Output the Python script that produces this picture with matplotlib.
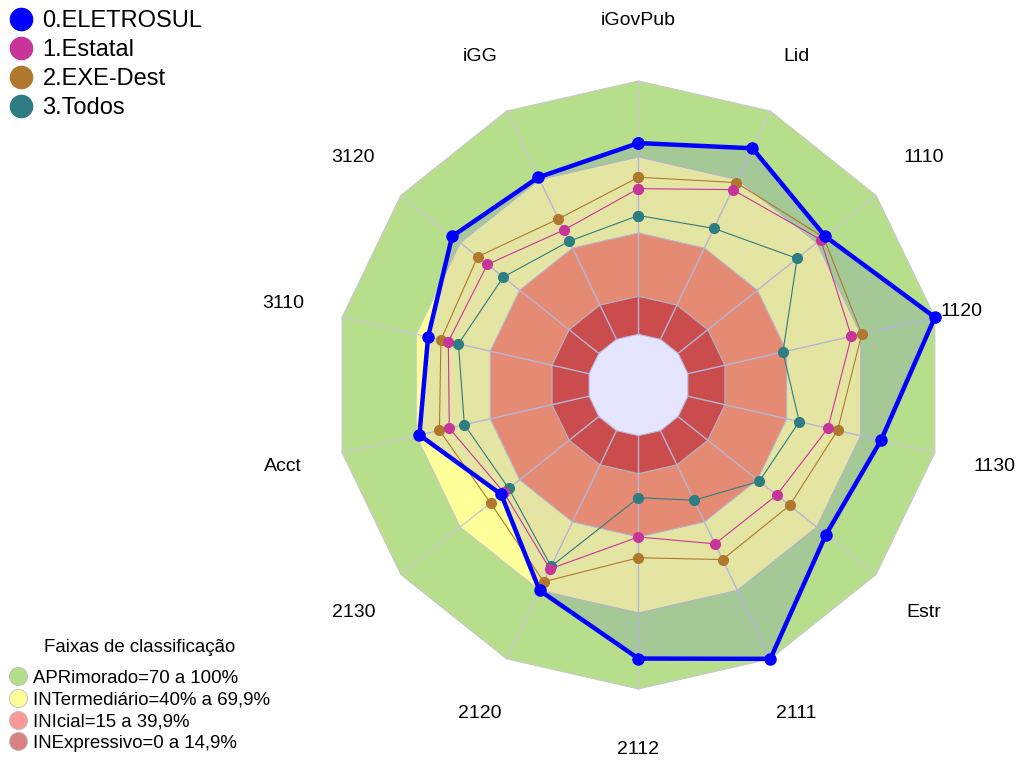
import numpy as np
import matplotlib
matplotlib.use("Agg")
import matplotlib.pyplot as plt
from matplotlib.lines import Line2D

plt.rcParams['font.family'] = ['Liberation Sans', 'DejaVu Sans']

categories = ['iGovPub', 'Lid', '1110', '1120', '1130', 'Estr', '2111',
              '2112', '2120', '2130', 'Acct', '3110', '3120', 'iGG']

eletrosul = [75.5, 83.7, 74.2, 100, 78.2, 74.7, 100, 88, 70, 49.3, 68.7, 65.2, 74.1, 71]
estatal = [57.5, 65.6, 72, 66.2, 56.7, 49.8, 49.6, 40, 60.6, 48, 56.6, 57, 56.3, 47.9]
exe_dest = [62, 68.7, 73.5, 70.4, 60.6, 56.3, 56.5, 48.2, 66.2, 54.7, 60.6, 60, 61.2, 52.8]
todos = [46.9, 48.6, 60.1, 38.5, 45.1, 41, 30.5, 24.5, 59.5, 45.5, 50.5, 52.9, 48.3, 43]

series_names = ['0.ELETROSUL', '1.Estatal', '2.EXE-Dest', '3.Todos']
series_colors = ['#0000FF', '#C8359A', '#AF782D', '#2D7D82']

# classification bands (upper limit of each band)
band_limits = [100, 70, 40, 15]
band_colors = ['#B7DF8B', '#FFFF99', '#FF9B64', '#E35539']
band_labels = ['APRimorado=70 a 100%', 'INTermediário=40% a 69,9%',
               'INIcial=15 a 39,9%', 'INExpressivo=0 a 14,9%']
legend_band_colors = ['#B3DE8A', '#FFFF99', '#FF9999', '#D98080']


def closed(values):
    return list(values) + [values[0]]


def main():
    n = len(categories)
    theta = np.linspace(0, 2 * np.pi, n, endpoint=False)
    theta_c = closed(theta)

    fig = plt.figure(figsize=(10.17, 7.63), dpi=100)
    ax = fig.add_axes([0.3289, 0.097, 0.5978, 0.7969], projection='polar')
    ax.set_theta_zero_location('N')
    ax.set_theta_direction(-1)
    ax.set_ylim(0, 100)
    ax.set_rorigin(-20)
    ax.set_axis_off()

    # bands
    for lim, col in zip(band_limits, band_colors):
        ax.fill(theta_c, [lim] * (n + 1), color=col, ec='#C8C8C8', lw=0.8,
                zorder=1, clip_on=False)
    ax.fill(theta_c, [0] * (n + 1), fc='white', ec='#D0D0DC', lw=0.8,
            zorder=1, clip_on=False)

    # spokes
    for t in theta:
        ax.plot([t, t], [0, 100], color='#CACAD2', lw=1, zorder=2, clip_on=False)

    # ELETROSUL fill
    ax.fill(theta_c, closed(eletrosul), color='#0000FF', alpha=0.1, lw=0,
            zorder=3, clip_on=False)

    data = [eletrosul, estatal, exe_dest, todos]
    for i in [3, 2, 1, 0]:
        if i == 0:
            ax.plot(theta_c, closed(data[i]), color=series_colors[i], lw=3.2,
                    marker='o', ms=8, zorder=10, clip_on=False)
        else:
            ax.plot(theta_c, closed(data[i]), color=series_colors[i], lw=0.8,
                    marker='o', ms=7, zorder=6 + (3 - i), clip_on=False)

    # axis labels
    label_r = [124] * n
    label_r[3] = 111
    for t, r, lab in zip(theta, label_r, categories):
        ax.text(t, r, lab, ha='center', va='center', fontsize=14, clip_on=False)

    # series legend
    handles = [Line2D([], [], ls='none', marker='o', ms=16, color=c, mec=c)
               for c in series_colors]
    fig.legend(handles, series_names, loc='upper left', bbox_to_anchor=(0.0, 0.999),
               frameon=False, fontsize=17, handlelength=1.0, handletextpad=0.4,
               labelspacing=0.3, borderaxespad=0)

    # band legend
    bh = [Line2D([], [], ls='none', marker='o', ms=13, color=c, mec='#BBBBBB', mew=0.6)
          for c in legend_band_colors]
    leg = fig.legend(bh, band_labels, loc='lower left', bbox_to_anchor=(-0.002, 0.0),
                     frameon=False, fontsize=13.4, title='Faixas de classificação',
                     title_fontsize=13.4, handlelength=1.0, handletextpad=0.3,
                     labelspacing=0.25, borderaxespad=0.2)
    leg._legend_box.sep = 10

    fig.savefig('out.png', dpi=100)


if __name__ == "__main__":
    main()
